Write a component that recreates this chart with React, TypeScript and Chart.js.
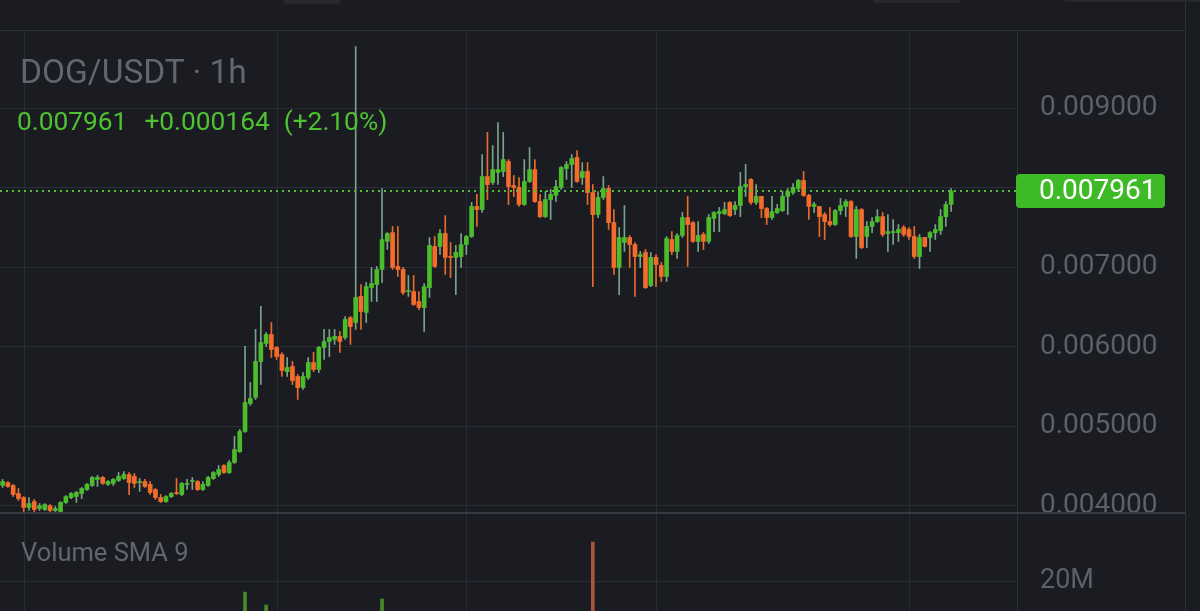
import React, { useEffect, useRef } from 'react';
import { Chart, registerables } from 'chart.js';

Chart.register(...registerables);

// ---------- text ----------
const PAIR = 'DOG/USDT · 1h';
const LAST_PRICE = '0.007961';
const CHANGE = '+0.000164';
const CHANGE_PCT = '(+2.10%)';
const VOLUME_TITLE = 'Volume SMA 9';

// ---------- candles (1h, oldest first) ----------
const OPEN = [
  0.004260, 0.004295, 0.004259, 0.004157, 0.004106, 0.003982, 0.004056, 0.003969, 0.003956, 0.004005,
  0.003943, 0.003930, 0.004044, 0.004106, 0.004119, 0.004157, 0.004207, 0.004259, 0.004334, 0.004359,
  0.004272, 0.004284, 0.004321, 0.004346, 0.004396, 0.004372, 0.004295, 0.004308, 0.004272, 0.004207,
  0.004106, 0.004056, 0.004119, 0.004170, 0.004144, 0.004272, 0.004308, 0.004308, 0.004207, 0.004259,
  0.004346, 0.004396, 0.004509, 0.004421, 0.004548, 0.004685, 0.004937, 0.005289, 0.005366, 0.005818,
  0.006045, 0.006157, 0.005994, 0.005905, 0.005691, 0.005755, 0.005629, 0.005490, 0.005616, 0.005805,
  0.005717, 0.005994, 0.006069, 0.006095, 0.006133, 0.006120, 0.006370, 0.006308, 0.006636, 0.006435,
  0.006747, 0.006786, 0.006975, 0.007328, 0.007439, 0.007013, 0.006975, 0.006698, 0.006698, 0.006572,
  0.006497, 0.006747, 0.007264, 0.007264, 0.007428, 0.007138, 0.007127, 0.007138, 0.007289, 0.007390,
  0.007768, 0.007729, 0.008144, 0.008069, 0.008195, 0.008208, 0.008333, 0.008031, 0.008007, 0.007793,
  0.008082, 0.008232, 0.007830, 0.007640, 0.007855, 0.007907, 0.008007, 0.008245, 0.008296, 0.008384,
  0.008131, 0.008208, 0.007943, 0.007666, 0.007881, 0.007994, 0.007565, 0.007001, 0.007315, 0.007377,
  0.007289, 0.007138, 0.007189, 0.006773, 0.007127, 0.007026, 0.006887, 0.007352, 0.007202, 0.007403,
  0.007628, 0.007565, 0.007328, 0.007416, 0.007328, 0.007617, 0.007679, 0.007679, 0.007819, 0.007729,
  0.007780, 0.008018, 0.008108, 0.007819, 0.007894, 0.007742, 0.007628, 0.007692, 0.007716, 0.007894,
  0.007943, 0.007994, 0.008095, 0.007907, 0.007768, 0.007768, 0.007666, 0.007578, 0.007540, 0.007716,
  0.007768, 0.007830, 0.007390, 0.007729, 0.007390, 0.007516, 0.007578, 0.007640, 0.007428, 0.007439,
  0.007439, 0.007503, 0.007478, 0.007390, 0.007138, 0.007377, 0.007377, 0.007439, 0.007465, 0.007640,
  0.007793,
];
const HIGH = [
  0.004334, 0.004308, 0.004272, 0.004220, 0.004119, 0.004106, 0.004082, 0.004031, 0.004031, 0.004018,
  0.003994, 0.004056, 0.004131, 0.004170, 0.004183, 0.004233, 0.004284, 0.004372, 0.004385, 0.004372,
  0.004321, 0.004346, 0.004421, 0.004434, 0.004421, 0.004409, 0.004346, 0.004334, 0.004308, 0.004220,
  0.004144, 0.004131, 0.004170, 0.004346, 0.004295, 0.004334, 0.004359, 0.004321, 0.004308, 0.004372,
  0.004434, 0.004509, 0.004522, 0.004573, 0.004875, 0.004963, 0.006007, 0.005554, 0.006221, 0.006510,
  0.006182, 0.006308, 0.006007, 0.005931, 0.005867, 0.005818, 0.005655, 0.005678, 0.005867, 0.005931,
  0.006007, 0.006221, 0.006221, 0.006221, 0.006195, 0.006383, 0.006383, 0.009780, 0.006786, 0.006811,
  0.007001, 0.007013, 0.007994, 0.007439, 0.007516, 0.007516, 0.007001, 0.006900, 0.006900, 0.006698,
  0.006798, 0.007377, 0.007390, 0.007478, 0.007653, 0.007315, 0.007277, 0.007428, 0.007403, 0.007819,
  0.007919, 0.008420, 0.008699, 0.008534, 0.008824, 0.008699, 0.008358, 0.008157, 0.008131, 0.008358,
  0.008508, 0.008358, 0.007919, 0.007956, 0.007982, 0.008095, 0.008270, 0.008333, 0.008420, 0.008472,
  0.008320, 0.008320, 0.008044, 0.007956, 0.008144, 0.008031, 0.007729, 0.007503, 0.007780, 0.007403,
  0.007315, 0.007202, 0.007227, 0.007189, 0.007163, 0.007063, 0.007390, 0.007452, 0.007428, 0.007692,
  0.007894, 0.007578, 0.007578, 0.007439, 0.007666, 0.007704, 0.007755, 0.007819, 0.007830, 0.007830,
  0.008195, 0.008296, 0.008119, 0.008044, 0.007894, 0.007755, 0.007894, 0.007793, 0.007956, 0.007994,
  0.008056, 0.008108, 0.008208, 0.007919, 0.007819, 0.007768, 0.007692, 0.007755, 0.007729, 0.007868,
  0.007855, 0.007842, 0.007768, 0.007742, 0.007578, 0.007628, 0.007729, 0.007692, 0.007666, 0.007604,
  0.007540, 0.007528, 0.007503, 0.007516, 0.007416, 0.007381, 0.007452, 0.007540, 0.007729, 0.007830,
  0.007994,
];
const LOW = [
  0.004233, 0.004233, 0.004119, 0.004069, 0.003930, 0.003943, 0.003930, 0.003943, 0.003943, 0.003930,
  0.003930, 0.003927, 0.004031, 0.004093, 0.004044, 0.004093, 0.004195, 0.004246, 0.004246, 0.004272,
  0.004259, 0.004259, 0.004308, 0.004334, 0.004144, 0.004233, 0.004183, 0.004233, 0.004144, 0.004082,
  0.004044, 0.004044, 0.004106, 0.004144, 0.004131, 0.004207, 0.004207, 0.004195, 0.004195, 0.004246,
  0.004334, 0.004372, 0.004409, 0.004409, 0.004535, 0.004674, 0.004924, 0.005265, 0.005340, 0.005529,
  0.006007, 0.005867, 0.005843, 0.005629, 0.005629, 0.005529, 0.005340, 0.005466, 0.005591, 0.005691,
  0.005678, 0.005843, 0.005880, 0.006032, 0.005931, 0.006095, 0.006032, 0.006221, 0.006221, 0.006308,
  0.006572, 0.006572, 0.006811, 0.007227, 0.006975, 0.006887, 0.006659, 0.006636, 0.006522, 0.006471,
  0.006195, 0.006623, 0.007001, 0.007163, 0.006913, 0.006874, 0.006659, 0.007001, 0.007163, 0.007377,
  0.007516, 0.007692, 0.007855, 0.008044, 0.008044, 0.008144, 0.007793, 0.007894, 0.007768, 0.007780,
  0.008069, 0.007819, 0.007628, 0.007628, 0.007604, 0.007830, 0.007982, 0.008108, 0.008007, 0.008069,
  0.008044, 0.007793, 0.006760, 0.007628, 0.007855, 0.007478, 0.006913, 0.006659, 0.007202, 0.007001,
  0.006636, 0.007001, 0.006736, 0.006760, 0.006760, 0.006823, 0.006823, 0.007163, 0.007114, 0.007377,
  0.007013, 0.007315, 0.007202, 0.007227, 0.007302, 0.007452, 0.007452, 0.007666, 0.007640, 0.007666,
  0.007640, 0.007894, 0.007793, 0.007793, 0.007628, 0.007540, 0.007604, 0.007679, 0.007704, 0.007666,
  0.007919, 0.007956, 0.007894, 0.007604, 0.007692, 0.007390, 0.007352, 0.007516, 0.007528, 0.007666,
  0.007640, 0.007377, 0.007114, 0.007238, 0.007251, 0.007439, 0.007565, 0.007390, 0.007202, 0.007289,
  0.007328, 0.007390, 0.007352, 0.007114, 0.006988, 0.007258, 0.007202, 0.007352, 0.007416, 0.007516,
  0.007704,
];
const CLOSE = [
  0.004308, 0.004246, 0.004144, 0.004093, 0.003982, 0.004031, 0.003956, 0.004005, 0.004018, 0.003943,
  0.003969, 0.004044, 0.004119, 0.004157, 0.004170, 0.004220, 0.004272, 0.004359, 0.004359, 0.004284,
  0.004308, 0.004334, 0.004372, 0.004396, 0.004295, 0.004284, 0.004308, 0.004246, 0.004170, 0.004106,
  0.004056, 0.004119, 0.004157, 0.004157, 0.004284, 0.004284, 0.004321, 0.004207, 0.004272, 0.004359,
  0.004421, 0.004460, 0.004421, 0.004548, 0.004710, 0.004937, 0.005302, 0.005353, 0.005818, 0.006056,
  0.006157, 0.005968, 0.005880, 0.005704, 0.005742, 0.005578, 0.005490, 0.005629, 0.005805, 0.005717,
  0.005994, 0.006069, 0.006120, 0.006133, 0.006069, 0.006347, 0.006257, 0.006623, 0.006447, 0.006760,
  0.006798, 0.006975, 0.007351, 0.007428, 0.007001, 0.006975, 0.006685, 0.006711, 0.006535, 0.006497,
  0.006760, 0.007277, 0.007013, 0.007428, 0.007127, 0.007127, 0.007189, 0.007289, 0.007390, 0.007768,
  0.007729, 0.008144, 0.008044, 0.008232, 0.008232, 0.008358, 0.008018, 0.008007, 0.007793, 0.008082,
  0.008232, 0.007830, 0.007640, 0.007855, 0.007919, 0.008018, 0.008258, 0.008296, 0.008371, 0.008082,
  0.008208, 0.007943, 0.007666, 0.007881, 0.007994, 0.007565, 0.007001, 0.007377, 0.007377, 0.007289,
  0.007138, 0.007163, 0.006747, 0.007127, 0.007037, 0.006887, 0.007364, 0.007202, 0.007403, 0.007628,
  0.007540, 0.007328, 0.007403, 0.007328, 0.007628, 0.007692, 0.007704, 0.007729, 0.007653, 0.007780,
  0.008018, 0.008044, 0.007819, 0.007894, 0.007742, 0.007628, 0.007704, 0.007742, 0.007894, 0.007956,
  0.008007, 0.008095, 0.007907, 0.007768, 0.007793, 0.007640, 0.007578, 0.007540, 0.007716, 0.007780,
  0.007830, 0.007390, 0.007729, 0.007251, 0.007516, 0.007578, 0.007640, 0.007416, 0.007452, 0.007452,
  0.007478, 0.007416, 0.007390, 0.007138, 0.007377, 0.007264, 0.007439, 0.007478, 0.007640, 0.007793,
  0.007961,
];

// visible volume bars (candle index, volume)
const VOLUME_INDEX = [46, 50, 72, 112];
const VOLUME_VALUE = [16.3e6, 12.0e6, 14.0e6, 33.0e6];

// time axis: total slots (incl. empty future slots) and day-break candles
const SLOT_COUNT = 193;
const DAY_BREAKS = [4, 52, 88, 124, 172];

// axes
const PRICE_MIN = 0.0039245;
const PRICE_MAX = 0.0099874;
const PRICE_TICKS = [0.004, 0.005, 0.006, 0.007, 0.008, 0.009, 0.01];
const VOL_MIN = 10e6;
const VOL_MAX = 43e6;
const VOL_TICKS = [20e6];

// ---------- styles ----------
const BG = '#1b1c21';
const GRID = '#2a2c33';
const EDGE = '#2e3038';
const AXIS_TEXT = '#5d6068';
const TITLE_TEXT = '#63666e';
const UP = '#4bbd2b';
const DOWN = '#f26c2c';
const UP_WICK = '#78a48a';
const DOWN_WICK = '#ea6a2c';
const VOL_UP = '#48882c';
const VOL_DOWN = '#a9553a';
const PRICE_GREEN = '#4fc232';
const LABEL_GREEN = '#3fba27';
const FONT = 'Roboto, "Noto Sans", sans-serif';
const AXIS_W = 183;

function fitAxis(s: any) {
  s.width = AXIS_W;
  s.paddingTop = 0;
  s.paddingBottom = 0;
}

export default function App() {
  const priceRef = useRef<HTMLCanvasElement>(null);
  const volRef = useRef<HTMLCanvasElement>(null);

  useEffect(() => {
    document.body.style.margin = '0';
    document.body.style.background = BG;
    const labels = Array.from({ length: SLOT_COUNT }, (_, i) => String(i));
    const up = CLOSE.map((c, i) => c >= OPEN[i]);

    const frame = {
      id: 'frame',
      beforeDatasetsDraw(chart: any) {
        const { ctx, scales, chartArea } = chart;
        ctx.save();
        ctx.strokeStyle = GRID;
        ctx.lineWidth = 1;
        for (const idx of DAY_BREAKS) {
          const x = Math.round(scales.x.getPixelForValue(idx)) + 0.5;
          ctx.beginPath();
          ctx.moveTo(x, chartArea.top);
          ctx.lineTo(x, chart.height);
          ctx.stroke();
        }
        ctx.strokeStyle = EDGE;
        ctx.beginPath();
        ctx.moveTo(1185.5, 0);
        ctx.lineTo(1185.5, chart.height);
        ctx.stroke();
        ctx.restore();
      },
    };

    const priceExtras = {
      id: 'priceExtras',
      beforeDatasetsDraw(chart: any) {
        const { ctx } = chart;
        ctx.save();
        ctx.strokeStyle = EDGE;
        ctx.lineWidth = 1;
        ctx.beginPath();
        ctx.moveTo(0, 30.5);
        ctx.lineTo(1185, 30.5);
        ctx.stroke();
        ctx.restore();
      },
      afterDatasetsDraw(chart: any) {
        const { ctx, chartArea, scales } = chart;
        const y = Math.round(scales.y.getPixelForValue(CLOSE[CLOSE.length - 1]));
        ctx.save();
        ctx.strokeStyle = PRICE_GREEN;
        ctx.lineWidth = 2;
        ctx.setLineDash([2, 4]);
        ctx.beginPath();
        ctx.moveTo(0, y);
        ctx.lineTo(chartArea.right, y);
        ctx.stroke();
        ctx.restore();
      },
      afterDraw(chart: any) {
        const { ctx, scales } = chart;
        const y = scales.y.getPixelForValue(CLOSE[CLOSE.length - 1]);
        ctx.save();
        ctx.fillStyle = LABEL_GREEN;
        ctx.beginPath();
        (ctx as any).roundRect(1016, Math.round(y - 17), 149, 34, 4);
        ctx.fill();
        ctx.fillStyle = '#ffffff';
        ctx.font = `28px ${FONT}`;
        ctx.textBaseline = 'middle';
        ctx.textAlign = 'left';
        ctx.fillText(CLOSE[CLOSE.length - 1].toFixed(6), 1039, y + 1);
        ctx.restore();
      },
    };

    const priceChart = new Chart(priceRef.current as HTMLCanvasElement, {
      type: 'bar',
      data: {
        labels,
        datasets: [
          {
            label: 'body',
            data: OPEN.map((o, i) => [o, CLOSE[i]]) as any,
            backgroundColor: up.map((u) => (u ? UP : DOWN)),
            borderWidth: 0,
            barThickness: 4,
            minBarLength: 1,
            grouped: false,
            order: 0,
          } as any,
          {
            label: 'wick',
            data: LOW.map((l, i) => [l, HIGH[i]]) as any,
            backgroundColor: up.map((u) => (u ? UP_WICK : DOWN_WICK)),
            borderWidth: 0,
            barThickness: 1,
            grouped: false,
            order: 1,
          } as any,
        ],
      },
      options: {
        responsive: false,
        animation: false,
        devicePixelRatio: 1,
        layout: { padding: { top: 30, left: 0, right: 0, bottom: 0 } },
        plugins: { legend: { display: false }, tooltip: { enabled: false } },
        scales: {
          x: { display: false },
          y: {
            position: 'right',
            min: PRICE_MIN,
            max: PRICE_MAX,
            afterFit: fitAxis,
            afterBuildTicks: (s: any) => {
              s.ticks = PRICE_TICKS.filter((v) => v >= PRICE_MIN && v <= PRICE_MAX).map((value) => ({ value }));
            },
            grid: { color: GRID, drawTicks: false },
            border: { display: true, color: EDGE },
            ticks: {
              autoSkip: false,
              color: AXIS_TEXT,
              padding: 23,
              font: { family: FONT, size: 28 },
              callback: (v: any) => Number(v).toFixed(6),
            },
          },
        },
      } as any,
      plugins: [frame, priceExtras],
    });

    const volumes: (number | null)[] = CLOSE.map(() => null);
    VOLUME_INDEX.forEach((idx, k) => {
      volumes[idx] = VOLUME_VALUE[k];
    });

    const volExtras = {
      id: 'volExtras',
      afterDraw(chart: any) {
        const { ctx } = chart;
        ctx.save();
        ctx.strokeStyle = '#383a42';
        ctx.lineWidth = 2;
        ctx.beginPath();
        ctx.moveTo(0, 1);
        ctx.lineTo(1185, 1);
        ctx.stroke();
        ctx.restore();
      },
    };

    const volChart = new Chart(volRef.current as HTMLCanvasElement, {
      type: 'bar',
      data: {
        labels,
        datasets: [
          {
            label: 'volume',
            data: volumes as any,
            backgroundColor: up.map((u) => (u ? VOL_UP : VOL_DOWN)),
            borderWidth: 0,
            barThickness: 3,
          } as any,
        ],
      },
      options: {
        responsive: false,
        animation: false,
        devicePixelRatio: 1,
        layout: { padding: 0 },
        plugins: { legend: { display: false }, tooltip: { enabled: false } },
        scales: {
          x: { display: false },
          y: {
            position: 'right',
            min: VOL_MIN,
            max: VOL_MAX,
            afterFit: fitAxis,
            afterBuildTicks: (s: any) => {
              s.ticks = VOL_TICKS.map((value) => ({ value }));
            },
            grid: { drawTicks: false, color: GRID },
            border: { display: true, color: EDGE },
            ticks: {
              autoSkip: false,
              color: AXIS_TEXT,
              padding: 23,
              font: { family: FONT, size: 27 },
              callback: (v: any) => `${Math.round(Number(v) / 1e6)}M`,
            },
          },
        },
      } as any,
      plugins: [frame, volExtras],
    });

    return () => {
      priceChart.destroy();
      volChart.destroy();
    };
  }, []);

  const tab = (left: number, width: number, h: number) => (
    <div
      style={{
        position: 'absolute',
        left,
        top: -6,
        width,
        height: 6 + h,
        borderRadius: 4,
        background: '#26282d',
      }}
    />
  );

  return (
    <div
      style={{
        position: 'fixed',
        left: 0,
        top: 0,
        width: 1200,
        height: 611,
        background: BG,
        overflow: 'hidden',
        fontFamily: FONT,
      }}
    >
      <canvas
        ref={priceRef}
        width={1200}
        height={512}
        style={{ position: 'absolute', left: 0, top: 0, width: 1200, height: 512 }}
      />
      <canvas
        ref={volRef}
        width={1200}
        height={99}
        style={{ position: 'absolute', left: 0, top: 512, width: 1200, height: 99 }}
      />
      {tab(283, 58, 4)}
      {tab(873, 88, 3)}
      {tab(1063, 140, 2)}
      <div
        style={{
          position: 'absolute',
          left: 20,
          top: 55,
          fontSize: 33.5,
          lineHeight: '33.5px',
          color: TITLE_TEXT,
          whiteSpace: 'nowrap',
          pointerEvents: 'none',
        }}
      >
        {PAIR}
      </div>
      <div
        style={{
          position: 'absolute',
          left: 17,
          top: 108,
          fontSize: 26.3,
          lineHeight: '26px',
          color: PRICE_GREEN,
          whiteSpace: 'nowrap',
          pointerEvents: 'none',
        }}
      >
        <span>{LAST_PRICE}</span>
        <span style={{ marginLeft: 17 }}>{CHANGE}</span>
        <span style={{ marginLeft: 14 }}>{CHANGE_PCT}</span>
      </div>
      <div
        style={{
          position: 'absolute',
          left: 21,
          top: 540,
          fontSize: 25.5,
          lineHeight: '25.5px',
          color: TITLE_TEXT,
          whiteSpace: 'nowrap',
          pointerEvents: 'none',
        }}
      >
        {VOLUME_TITLE}
      </div>
    </div>
  );
}
